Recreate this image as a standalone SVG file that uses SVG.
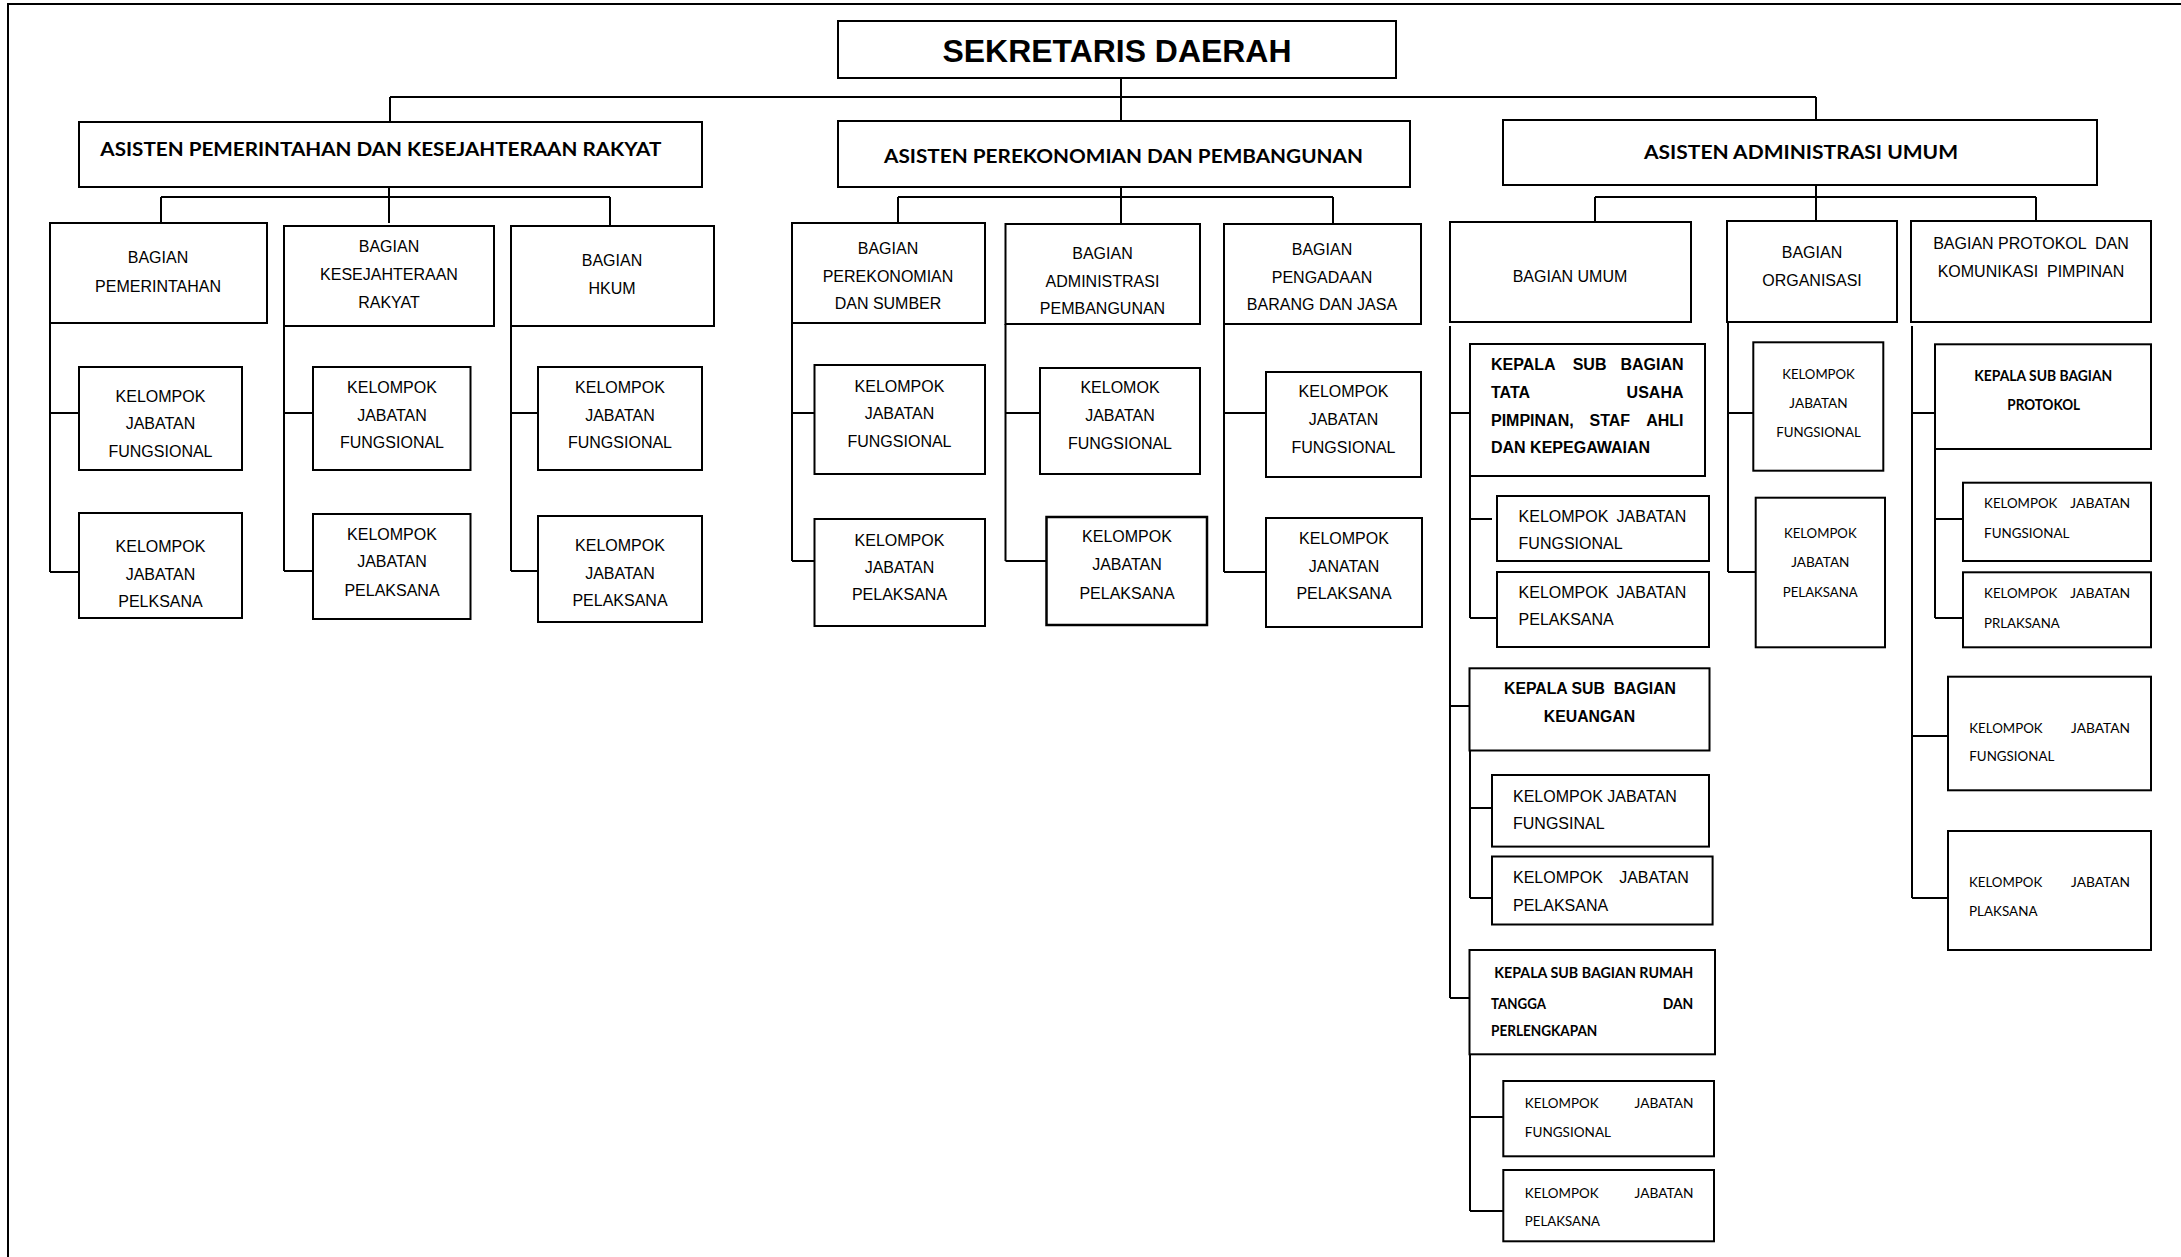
<svg xmlns="http://www.w3.org/2000/svg" width="2181" height="1257" viewBox="0 0 2181 1257">
<style>
.b{fill:#fff;stroke:#000;stroke-width:2}
.c{fill:none;stroke:#000;stroke-width:2}
.a{font-family:"Liberation Sans",Arial,sans-serif;font-size:16px;fill:#000}
.ab{font-family:"Liberation Sans",Arial,sans-serif;font-size:16px;font-weight:bold;fill:#000}
.l{font-family:Lato,"Open Sans",sans-serif;font-size:14px;fill:#000}
.lb{font-family:Lato,"Open Sans",sans-serif;font-size:14.4px;font-weight:bold;fill:#000}
.h{font-family:Lato,"Open Sans",sans-serif;font-size:19.5px;font-weight:bold;fill:#000}
.m{text-anchor:middle}
.e{text-anchor:end}
</style>
<rect x="0" y="0" width="2181" height="1257" fill="#fff"/>
<rect x="8" y="4" width="2200" height="1300" class="c"/>
<g id="connectors" class="c">
<path d="M1121,78V97M390,97H1816M390,97V122M1121,97V121M1816,97V120"/>
<path d="M389,187V223M161,197H610M161,197V223M610,197V226"/>
<path d="M50,323V572M50,413H79M50,572H79"/>
<path d="M284,326V571M284,413H313M284,571H313"/>
<path d="M511,326V571M511,413H538M511,571H538"/>
<path d="M1121,187V197M898,197H1333M898,197V223M1121,197V224M1333,197V224"/>
<path d="M792,323V561M792,413H814.5M792,561H814.5"/>
<path d="M1005.5,324V561M1005.5,413H1040M1005.5,561H1046.5"/>
<path d="M1224,324V572M1224,413H1266M1224,572H1266"/>
<path d="M1816,185V197M1595,197H2036M1595,197V223M1816,197V221M2036,197V221"/>
<path d="M1450,326V998M1450,413H1470M1450,706H1470M1450,998H1470"/>
<path d="M1470,476V618M1470,519H1492M1470,618H1497"/>
<path d="M1470,751V898M1470,808H1492M1470,898H1492"/>
<path d="M1470,1054V1211M1470,1117H1503M1470,1211H1503"/>
<path d="M1728,322V572M1728,413H1753M1728,572H1756"/>
<path d="M1912,326V898M1912,413H1935M1912,736H1948M1912,898H1948"/>
<path d="M1935,449V618M1935,519H1963M1935,618H1963"/>
</g>
<g id="sekda"><rect class="b" x="838" y="21" width="558" height="57"/><text class="ab m" x="1117" y="62" style="font-size:31.5px" textLength="349" lengthAdjust="spacingAndGlyphs">SEKRETARIS DAERAH</text></g>
<g id="asisten-pem"><rect class="b" x="79" y="122" width="623" height="65"/><text class="h" x="100.3" y="156" textLength="561" lengthAdjust="spacingAndGlyphs">ASISTEN PEMERINTAHAN DAN KESEJAHTERAAN RAKYAT</text></g>
<g id="asisten-eko"><rect class="b" x="838" y="121" width="572" height="66"/><text class="h" x="884" y="163" textLength="479" lengthAdjust="spacingAndGlyphs">ASISTEN PEREKONOMIAN DAN PEMBANGUNAN</text></g>
<g id="asisten-adm"><rect class="b" x="1503" y="120" width="594" height="65"/><text class="h" x="1644" y="159" textLength="314" lengthAdjust="spacingAndGlyphs">ASISTEN ADMINISTRASI UMUM</text></g>

<g id="bag-pem"><rect class="b" x="50" y="223" width="217" height="100"/><text class="a m"><tspan x="158" y="263">BAGIAN</tspan><tspan x="158" y="291.5">PEMERINTAHAN</tspan></text></g>
<g id="bag-pem-kjf"><rect class="b" x="79" y="367" width="163" height="103"/><text class="a m"><tspan x="160.5" y="402.3">KELOMPOK</tspan><tspan x="160.5" y="429.3">JABATAN</tspan><tspan x="160.5" y="457.3">FUNGSIONAL</tspan></text></g>
<g id="bag-pem-kjp"><rect class="b" x="79" y="513" width="163" height="105"/><text class="a m"><tspan x="160.5" y="552.3">KELOMPOK</tspan><tspan x="160.5" y="580">JABATAN</tspan><tspan x="160.5" y="607.3">PELKSANA</tspan></text></g>

<g id="bag-kes"><rect class="b" x="284" y="226" width="210" height="100"/><text class="a m"><tspan x="389" y="251.7">BAGIAN</tspan><tspan x="389" y="280">KESEJAHTERAAN</tspan><tspan x="389" y="307.5">RAKYAT</tspan></text></g>
<g id="bag-kes-kjf"><rect class="b" x="313" y="367" width="157.5" height="103"/><text class="a m"><tspan x="392" y="393.3">KELOMPOK</tspan><tspan x="392" y="421">JABATAN</tspan><tspan x="392" y="448.3">FUNGSIONAL</tspan></text></g>
<g id="bag-kes-kjp"><rect class="b" x="313" y="514" width="157.5" height="105"/><text class="a m"><tspan x="392" y="540">KELOMPOK</tspan><tspan x="392" y="567.3">JABATAN</tspan><tspan x="392" y="596">PELAKSANA</tspan></text></g>

<g id="bag-hkum"><rect class="b" x="511" y="226" width="203" height="100"/><text class="a m"><tspan x="612" y="265.7">BAGIAN</tspan><tspan x="612" y="294">HKUM</tspan></text></g>
<g id="bag-hkum-kjf"><rect class="b" x="538" y="367" width="164" height="103"/><text class="a m"><tspan x="620" y="393.3">KELOMPOK</tspan><tspan x="620" y="421">JABATAN</tspan><tspan x="620" y="448.3">FUNGSIONAL</tspan></text></g>
<g id="bag-hkum-kjp"><rect class="b" x="538" y="516" width="164" height="106"/><text class="a m"><tspan x="620" y="551">KELOMPOK</tspan><tspan x="620" y="579">JABATAN</tspan><tspan x="620" y="606">PELAKSANA</tspan></text></g>

<g id="bag-eko"><rect class="b" x="792" y="223" width="193" height="100"/><text class="a m"><tspan x="888" y="254">BAGIAN</tspan><tspan x="888" y="282.3">PEREKONOMIAN</tspan><tspan x="888" y="309.3">DAN SUMBER</tspan></text></g>
<g id="bag-eko-kjf"><rect class="b" x="814.5" y="365" width="170.5" height="109"/><text class="a m"><tspan x="899.5" y="391.7">KELOMPOK</tspan><tspan x="899.5" y="419.3">JABATAN</tspan><tspan x="899.5" y="446.7">FUNGSIONAL</tspan></text></g>
<g id="bag-eko-kjp"><rect class="b" x="814.5" y="519" width="170.5" height="107"/><text class="a m"><tspan x="899.5" y="545.7">KELOMPOK</tspan><tspan x="899.5" y="573.3">JABATAN</tspan><tspan x="899.5" y="600">PELAKSANA</tspan></text></g>

<g id="bag-adpem"><rect class="b" x="1005.5" y="224" width="194.5" height="100"/><text class="a m"><tspan x="1102.5" y="259.3">BAGIAN</tspan><tspan x="1102.5" y="287.3">ADMINISTRASI</tspan><tspan x="1102.5" y="314.3">PEMBANGUNAN</tspan></text></g>
<g id="bag-adpem-kjf"><rect class="b" x="1040" y="368" width="160" height="106"/><text class="a m"><tspan x="1120" y="393.3">KELOMOK</tspan><tspan x="1120" y="421">JABATAN</tspan><tspan x="1120" y="449">FUNGSIONAL</tspan></text></g>
<g id="bag-adpem-kjp"><rect class="b" x="1046.5" y="517" width="160.5" height="108" style="stroke-width:2.5"/><text class="a m"><tspan x="1127" y="542.3">KELOMPOK</tspan><tspan x="1127" y="570">JABATAN</tspan><tspan x="1127" y="599">PELAKSANA</tspan></text></g>

<g id="bag-pbj"><rect class="b" x="1224" y="224" width="197" height="100"/><text class="a m"><tspan x="1322" y="255.3">BAGIAN</tspan><tspan x="1322" y="283.3">PENGADAAN</tspan><tspan x="1322" y="310">BARANG DAN JASA</tspan></text></g>
<g id="bag-pbj-kjf"><rect class="b" x="1266" y="372" width="155" height="105"/><text class="a m"><tspan x="1343.5" y="397.3">KELOMPOK</tspan><tspan x="1343.5" y="425">JABATAN</tspan><tspan x="1343.5" y="452.7">FUNGSIONAL</tspan></text></g>
<g id="bag-pbj-kjp"><rect class="b" x="1266" y="518" width="156" height="109"/><text class="a m"><tspan x="1344" y="544.3">KELOMPOK</tspan><tspan x="1344" y="572.3">JANATAN</tspan><tspan x="1344" y="599.3">PELAKSANA</tspan></text></g>

<g id="bag-umum"><rect class="b" x="1450" y="222" width="241" height="100"/><text class="a m" x="1570" y="281.7">BAGIAN UMUM</text></g>
<g id="ksb-tu"><rect class="b" x="1470" y="344" width="235" height="132"/>
<text class="ab" y="370"><tspan x="1491">KEPALA</tspan><tspan x="1572.7">SUB</tspan></text><text class="ab e" x="1683.5" y="370">BAGIAN</text>
<text class="ab" x="1491" y="397.5">TATA</text><text class="ab e" x="1683.5" y="397.5">USAHA</text>
<text class="ab" y="425.5"><tspan x="1491">PIMPINAN,</tspan><tspan x="1589.5">STAF</tspan></text><text class="ab e" x="1683.5" y="425.5">AHLI</text>
<text class="ab" x="1491" y="453">DAN KEPEGAWAIAN</text></g>
<g id="ksb-tu-kjf"><rect class="b" x="1497" y="496" width="212" height="65"/><text class="a" y="522.3"><tspan x="1518.6">KELOMPOK</tspan><tspan x="1616.6">JABATAN</tspan></text><text class="a" x="1518.6" y="549">FUNGSIONAL</text></g>
<g id="ksb-tu-kjp"><rect class="b" x="1497" y="572" width="212" height="75"/><text class="a" y="598.3"><tspan x="1518.6">KELOMPOK</tspan><tspan x="1616.6">JABATAN</tspan></text><text class="a" x="1518.6" y="625">PELAKSANA</text></g>
<g id="ksb-keu"><rect class="b" x="1469.5" y="668.3" width="240" height="82.2"/><text class="ab m" x="1590" y="694.3" style="font-size:15.8px" xml:space="preserve">KEPALA SUB  BAGIAN</text><text class="ab m" x="1589.5" y="721.7" style="font-size:15.8px">KEUANGAN</text></g>
<g id="ksb-keu-kjf"><rect class="b" x="1492" y="775" width="217" height="71.6"/><text class="a" x="1513" y="802">KELOMPOK JABATAN</text><text class="a" x="1513" y="829">FUNGSINAL</text></g>
<g id="ksb-keu-kjp"><rect class="b" x="1492" y="856.5" width="220.6" height="68"/><text class="a" y="882.8"><tspan x="1513">KELOMPOK</tspan><tspan x="1619.2">JABATAN</tspan></text><text class="a" x="1513" y="910.8">PELAKSANA</text></g>
<g id="ksb-rt"><rect class="b" x="1469.5" y="950" width="245.5" height="104.3"/>
<text class="lb" x="1494.3" y="977.7" textLength="199" lengthAdjust="spacingAndGlyphs">KEPALA SUB BAGIAN RUMAH</text>
<text class="lb" x="1491" y="1009" textLength="55" lengthAdjust="spacingAndGlyphs">TANGGA</text><text class="lb e" x="1693.3" y="1009" textLength="30.6" lengthAdjust="spacingAndGlyphs">DAN</text>
<text class="lb" x="1491" y="1035.7" textLength="106.3" lengthAdjust="spacingAndGlyphs">PERLENGKAPAN</text></g>
<g id="ksb-rt-kjf"><rect class="b" x="1503.3" y="1081" width="210.7" height="75.3"/><text class="l" x="1524.8" y="1108.3" textLength="73.8" lengthAdjust="spacingAndGlyphs">KELOMPOK</text><text class="l" x="1634.5" y="1108.3" textLength="58.9" lengthAdjust="spacingAndGlyphs">JABATAN</text><text class="l" x="1524.8" y="1137" textLength="86.2" lengthAdjust="spacingAndGlyphs">FUNGSIONAL</text></g>
<g id="ksb-rt-kjp"><rect class="b" x="1503.3" y="1170" width="210.7" height="71.3"/><text class="l" x="1524.8" y="1197.7" textLength="73.8" lengthAdjust="spacingAndGlyphs">KELOMPOK</text><text class="l" x="1634.5" y="1197.7" textLength="58.9" lengthAdjust="spacingAndGlyphs">JABATAN</text><text class="l" x="1524.8" y="1226.4" textLength="75.2" lengthAdjust="spacingAndGlyphs">PELAKSANA</text></g>

<g id="bag-org"><rect class="b" x="1727" y="221" width="170" height="101"/><text class="a m"><tspan x="1812" y="257.7">BAGIAN</tspan><tspan x="1812" y="286">ORGANISASI</tspan></text></g>
<g id="bag-org-kjf"><rect class="b" x="1753.3" y="342.3" width="130" height="128.4"/><text class="l m" x="1818.5" y="379" textLength="72.7" lengthAdjust="spacingAndGlyphs">KELOMPOK</text><text class="l m" x="1818.5" y="408.3" textLength="58.3" lengthAdjust="spacingAndGlyphs">JABATAN</text><text class="l m" x="1818.5" y="437.3" textLength="84.7" lengthAdjust="spacingAndGlyphs">FUNGSIONAL</text></g>
<g id="bag-org-kjp"><rect class="b" x="1755.7" y="497.7" width="129.3" height="149.6"/><text class="l m" x="1820.3" y="538.3" textLength="72.7" lengthAdjust="spacingAndGlyphs">KELOMPOK</text><text class="l m" x="1820.3" y="567.3" textLength="58.3" lengthAdjust="spacingAndGlyphs">JABATAN</text><text class="l m" x="1820.3" y="597.3" textLength="75" lengthAdjust="spacingAndGlyphs">PELAKSANA</text></g>

<g id="bag-prot"><rect class="b" x="1911" y="221" width="240" height="101"/><text class="a m" x="2031" y="249" xml:space="preserve">BAGIAN PROTOKOL  DAN</text><text class="a m" x="2031" y="277.3" xml:space="preserve">KOMUNIKASI  PIMPINAN</text></g>
<g id="ksb-prot"><rect class="b" x="1935" y="344.3" width="216" height="104.7"/><text class="lb m" x="2043.3" y="381" textLength="138" lengthAdjust="spacingAndGlyphs">KEPALA SUB BAGIAN</text><text class="lb m" x="2043.7" y="410" textLength="72.7" lengthAdjust="spacingAndGlyphs">PROTOKOL</text></g>
<g id="ksb-prot-kjf"><rect class="b" x="1963" y="482.7" width="188" height="78.3"/><text class="l" x="1984.1" y="508.3" textLength="73.3" lengthAdjust="spacingAndGlyphs">KELOMPOK</text><text class="l" x="2070.3" y="508.3" textLength="60" lengthAdjust="spacingAndGlyphs">JABATAN</text><text class="l" x="1984.1" y="537.7" textLength="85.3" lengthAdjust="spacingAndGlyphs">FUNGSIONAL</text></g>
<g id="ksb-prot-kjp"><rect class="b" x="1963" y="572.3" width="188" height="75"/><text class="l" x="1984.1" y="598.3" textLength="73.3" lengthAdjust="spacingAndGlyphs">KELOMPOK</text><text class="l" x="2070.3" y="598.3" textLength="60" lengthAdjust="spacingAndGlyphs">JABATAN</text><text class="l" x="1984.1" y="627.7" textLength="75.7" lengthAdjust="spacingAndGlyphs">PRLAKSANA</text></g>
<g id="prot-kjf"><rect class="b" x="1948" y="676.7" width="203" height="113.6"/><text class="l" x="1969.3" y="732.7" textLength="73.3" lengthAdjust="spacingAndGlyphs">KELOMPOK</text><text class="l" x="2071" y="732.7" textLength="59" lengthAdjust="spacingAndGlyphs">JABATAN</text><text class="l" x="1969.3" y="761" textLength="85" lengthAdjust="spacingAndGlyphs">FUNGSIONAL</text></g>
<g id="prot-kjp"><rect class="b" x="1948" y="831" width="203" height="119"/><text class="l" x="1969" y="886.8" textLength="73.3" lengthAdjust="spacingAndGlyphs">KELOMPOK</text><text class="l" x="2071" y="886.8" textLength="59" lengthAdjust="spacingAndGlyphs">JABATAN</text><text class="l" x="1969" y="915.5" textLength="68.5" lengthAdjust="spacingAndGlyphs">PLAKSANA</text></g>
</svg>
